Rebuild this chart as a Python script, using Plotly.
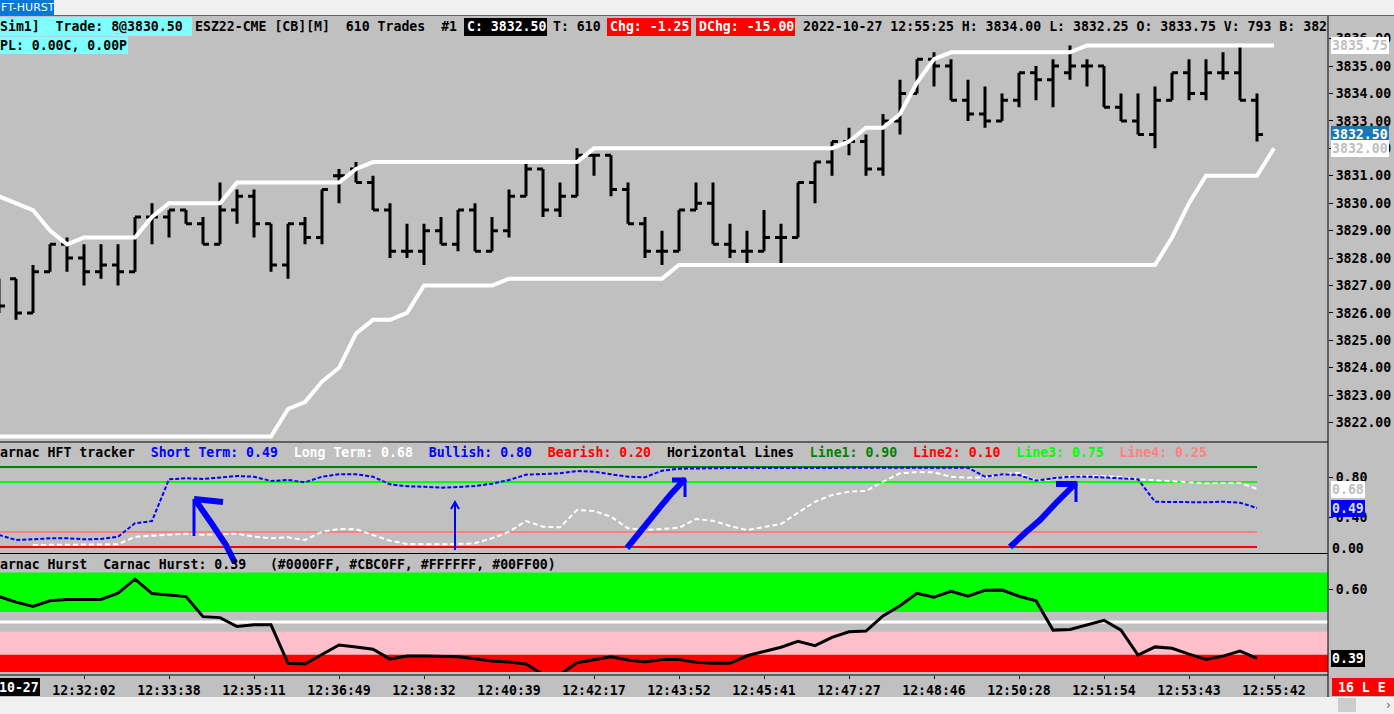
import plotly.graph_objects as go

W, H = 1394, 714
FONT = "DejaVu Sans Mono"

# ---- price bars (610-trade bars, ESZ22) ----
bar_open = [3827.25, 3827.25, 3826.0, 3827.5, 3828.5, 3828.0, 3827.5, 3827.75, 3827.5, 3829.5,
            3829.5, 3829.75, 3829.25, 3828.5, 3829.75, 3830.25, 3829.25, 3827.75, 3829.25, 3828.75,
            3831.0, 3831.25, 3830.75, 3829.75, 3828.25, 3828.25, 3829.0, 3828.5, 3829.75, 3828.25,
            3829.0, 3830.25, 3831.25, 3829.75, 3830.25, 3831.75, 3831.75, 3830.5, 3829.25, 3828.25,
            3828.25, 3829.75, 3830.0, 3828.5, 3828.25, 3828.25, 3828.75, 3828.75, 3830.75, 3831.5,
            3832.25, 3832.25, 3831.25, 3833.0, 3834.0, 3835.25, 3835.0, 3833.75, 3833.25, 3833.0,
            3833.75, 3834.75, 3834.5, 3834.75, 3835.0, 3835.0, 3833.5, 3833.0, 3832.5, 3833.75,
            3834.75, 3834.0, 3834.75, 3834.75, 3833.75]
bar_high = [3827.25, 3827.25, 3827.75, 3828.5, 3828.75, 3828.5, 3828.5, 3828.5, 3829.5, 3830.0,
            3829.75, 3829.75, 3829.5, 3830.75, 3830.5, 3830.5, 3829.25, 3829.25, 3829.5, 3830.5,
            3831.25, 3831.5, 3831.0, 3830.0, 3829.25, 3829.25, 3829.5, 3829.75, 3830.0, 3829.5,
            3830.5, 3831.5, 3831.25, 3830.75, 3832.0, 3831.75, 3831.75, 3830.75, 3829.5, 3829.0,
            3829.75, 3830.75, 3830.75, 3829.25, 3829.0, 3829.75, 3829.25, 3830.75, 3831.5, 3832.25,
            3832.75, 3832.5, 3833.25, 3834.5, 3835.25, 3835.5, 3835.25, 3834.5, 3834.25, 3834.0,
            3834.75, 3835.0, 3835.25, 3835.75, 3835.25, 3835.0, 3834.0, 3834.0, 3834.25, 3834.75,
            3835.25, 3835.25, 3835.5, 3835.75, 3834.0]
bar_low = [3826.0, 3825.75, 3826.0, 3827.5, 3827.5, 3827.0, 3827.25, 3827.0, 3827.5, 3828.5,
           3828.75, 3829.25, 3828.5, 3828.5, 3829.25, 3828.75, 3827.5, 3827.25, 3828.5, 3828.5,
           3830.0, 3830.75, 3829.75, 3828.0, 3828.0, 3827.75, 3828.5, 3828.25, 3828.25, 3828.25,
           3828.75, 3830.25, 3829.5, 3829.5, 3830.25, 3831.0, 3830.25, 3829.25, 3828.0, 3827.75,
           3828.25, 3829.75, 3828.5, 3828.0, 3827.75, 3828.25, 3827.75, 3828.75, 3830.0, 3831.0,
           3831.75, 3831.0, 3831.0, 3832.5, 3834.0, 3834.25, 3833.75, 3833.0, 3832.75, 3833.0,
           3833.5, 3833.75, 3833.5, 3834.5, 3834.25, 3833.5, 3833.0, 3832.5, 3832.0, 3833.75,
           3833.75, 3833.75, 3834.5, 3833.75, 3832.25]
bar_close = [3826.25, 3826.0, 3827.5, 3828.5, 3828.0, 3827.5, 3827.75, 3827.5, 3829.5, 3829.5,
             3829.75, 3829.25, 3828.5, 3829.75, 3830.25, 3829.25, 3827.75, 3829.25, 3828.75, 3830.5,
             3831.0, 3830.75, 3829.75, 3828.25, 3828.25, 3829.0, 3828.5, 3829.75, 3828.25, 3829.0,
             3830.25, 3831.25, 3829.75, 3830.25, 3831.75, 3831.75, 3830.5, 3829.25, 3828.25, 3828.25,
             3829.75, 3830.0, 3828.5, 3828.25, 3828.25, 3828.75, 3828.75, 3830.75, 3831.5, 3832.25,
             3832.25, 3831.25, 3833.0, 3834.0, 3835.25, 3835.0, 3833.75, 3833.25, 3833.0, 3833.75,
             3834.75, 3834.5, 3835.0, 3835.0, 3835.0, 3833.5, 3833.0, 3832.5, 3833.75, 3834.75,
             3834.0, 3834.75, 3834.75, 3833.75, 3832.5]

# white channel lines (one value ahead of the last bar)
upper_band = [3830.25, 3830.0, 3829.75, 3829.0, 3828.5, 3828.75, 3828.75, 3828.75, 3828.75, 3829.5,
              3830.0, 3830.0, 3830.0, 3830.0, 3830.75, 3830.75, 3830.75, 3830.75, 3830.75, 3830.75,
              3830.75, 3831.25, 3831.5, 3831.5, 3831.5, 3831.5, 3831.5, 3831.5, 3831.5, 3831.5,
              3831.5, 3831.5, 3831.5, 3831.5, 3831.5, 3832.0, 3832.0, 3832.0, 3832.0, 3832.0,
              3832.0, 3832.0, 3832.0, 3832.0, 3832.0, 3832.0, 3832.0, 3832.0, 3832.0, 3832.0,
              3832.25, 3832.75, 3832.75, 3833.25, 3834.4, 3835.25, 3835.5, 3835.5, 3835.5, 3835.5,
              3835.5, 3835.5, 3835.5, 3835.5, 3835.75, 3835.75, 3835.75, 3835.75, 3835.75, 3835.75,
              3835.75, 3835.75, 3835.75, 3835.75, 3835.75, 3835.75]
lower_band = [3821.5, 3821.5, 3821.5, 3821.5, 3821.5, 3821.5, 3821.5, 3821.5, 3821.5, 3821.5,
              3821.5, 3821.5, 3821.5, 3821.5, 3821.5, 3821.5, 3821.5, 3822.5, 3822.75, 3823.5,
              3824.0, 3825.25, 3825.75, 3825.75, 3826.0, 3827.0, 3827.0, 3827.0, 3827.0, 3827.0,
              3827.25, 3827.25, 3827.25, 3827.25, 3827.25, 3827.25, 3827.25, 3827.25, 3827.25, 3827.25,
              3827.75, 3827.75, 3827.75, 3827.75, 3827.75, 3827.75, 3827.75, 3827.75, 3827.75, 3827.75,
              3827.75, 3827.75, 3827.75, 3827.75, 3827.75, 3827.75, 3827.75, 3827.75, 3827.75, 3827.75,
              3827.75, 3827.75, 3827.75, 3827.75, 3827.75, 3827.75, 3827.75, 3827.75, 3827.75, 3828.75,
              3830.0, 3831.0, 3831.0, 3831.0, 3831.0, 3832.0]

# ---- Carnac HFT tracker ----
short_term = [0.22, 0.17, 0.177, 0.187, 0.187, 0.177, 0.18, 0.203, 0.337, 0.36,
              0.777, 0.787, 0.78, 0.793, 0.81, 0.803, 0.76, 0.77, 0.747, 0.803,
              0.827, 0.827, 0.803, 0.727, 0.707, 0.703, 0.693, 0.70, 0.71, 0.733,
              0.77, 0.823, 0.827, 0.837, 0.86, 0.853, 0.827, 0.803, 0.797, 0.863,
              0.883, 0.887, 0.887, 0.89, 0.89, 0.89, 0.893, 0.893, 0.893, 0.893,
              0.893, 0.893, 0.895, 0.897, 0.897, 0.897, 0.897, 0.893, 0.803, 0.827,
              0.82, 0.763, 0.787, 0.803, 0.803, 0.797, 0.787, 0.777, 0.553, 0.55,
              0.547, 0.547, 0.553, 0.543, 0.49]
long_term = [None, None, 0.12, 0.12, 0.12, 0.12, 0.12, 0.127, 0.203, 0.213,
             0.227, 0.233, 0.223, 0.227, 0.233, 0.203, 0.187, 0.197, 0.17, 0.253,
             0.28, 0.277, 0.22, 0.163, 0.13, 0.127, 0.127, 0.13, 0.137, 0.187,
             0.253, 0.36, 0.303, 0.297, 0.47, 0.46, 0.403, 0.287, 0.27, 0.28,
             0.293, 0.38, 0.363, 0.31, 0.27, 0.30, 0.33, 0.443, 0.553, 0.62,
             0.653, 0.66, 0.753, 0.837, 0.85, 0.847, 0.803, 0.793, 0.797, 0.83,
             0.84, 0.763, 0.777, 0.81, 0.81, 0.807, 0.80, 0.777, 0.767, 0.757,
             0.743, 0.737, 0.74, 0.743, 0.68]
line1, line2, line3, line4 = 0.90, 0.10, 0.75, 0.25

# ---- Carnac Hurst ----
hurst = [0.577, 0.560, 0.547, 0.564, 0.568, 0.567, 0.568, 0.587, 0.630, 0.586,
         0.581, 0.577, 0.516, 0.513, 0.486, 0.491, 0.491, 0.374, 0.372, 0.400,
         0.430, 0.424, 0.417, 0.387, 0.396, 0.396, 0.396, 0.394, 0.388, 0.381,
         0.378, 0.372, 0.340, 0.340, 0.376, 0.386, 0.394, 0.384, 0.378, 0.386,
         0.386, 0.377, 0.374, 0.374, 0.397, 0.410, 0.423, 0.441, 0.428, 0.453,
         0.470, 0.472, 0.518, 0.549, 0.587, 0.575, 0.593, 0.578, 0.596, 0.597,
         0.578, 0.564, 0.475, 0.477, 0.491, 0.505, 0.475, 0.399, 0.424, 0.420,
         0.402, 0.386, 0.396, 0.411, 0.389]
hurst_green = (0.53, 0.65)
hurst_white = 0.50
hurst_pink = (0.40, 0.47)
hurst_red = (0.3477, 0.40)

time_tick_bars = [5, 10, 15, 20, 25, 30, 35, 40, 45, 50, 55, 60, 65, 70, 75]
time_tick_labels = ['12:32:02', '12:33:38', '12:35:11', '12:36:49', '12:38:32', '12:40:39',
                    '12:42:17', '12:43:52', '12:45:41', '12:47:27', '12:48:46', '12:50:28',
                    '12:51:54', '12:53:43', '12:55:42']
price_ticks = list(range(3822, 3837))

bar_index = list(range(len(bar_close)))
band_index = list(range(len(upper_band)))


def px(x):
    return x / W


def py(y):
    return 1 - y / H


XR = 1328 / W  # right edge of plotting area

fig = go.Figure()

# channel lines then bars
for band in (upper_band, lower_band):
    fig.add_trace(go.Scatter(x=band_index, y=band, mode='lines',
                             line=dict(color='white', width=4), hoverinfo='skip',
                             xaxis='x', yaxis='y'))
fig.add_trace(go.Ohlc(x=bar_index, open=bar_open, high=bar_high, low=bar_low, close=bar_close,
                      increasing=dict(line=dict(color='black', width=3)),
                      decreasing=dict(line=dict(color='black', width=3)),
                      tickwidth=0.35, xaxis='x', yaxis='y'))

# HFT pane
ends = [bar_index[0], bar_index[-1]]
for val, col in ((line1, '#008000'), (line3, '#00FF00'), (line4, '#FF8080'), (line2, '#FF0000')):
    fig.add_trace(go.Scatter(x=ends, y=[val, val], mode='lines', line=dict(color=col, width=2),
                             hoverinfo='skip', xaxis='x2', yaxis='y2'))
fig.add_trace(go.Scatter(x=bar_index, y=long_term, mode='lines',
                         line=dict(color='white', width=2, dash='5px,3px'),
                         hoverinfo='skip', xaxis='x2', yaxis='y2'))
fig.add_trace(go.Scatter(x=bar_index, y=short_term, mode='lines',
                         line=dict(color='#0000FF', width=2, dash='4px,2px'),
                         hoverinfo='skip', xaxis='x2', yaxis='y2'))

# Hurst pane
fig.add_trace(go.Scatter(x=bar_index, y=hurst, mode='lines', line=dict(color='black', width=3),
                         hoverinfo='skip', xaxis='x3', yaxis='y3'))

shapes = []
# Hurst bands
for (lo, hi), col in ((hurst_green, '#00FF00'), (hurst_pink, '#FFC0CB'), (hurst_red, '#FF0000')):
    shapes.append(dict(type='rect', xref='paper', yref='y3', x0=0, x1=XR, y0=lo, y1=hi,
                       fillcolor=col, line_width=0, layer='below'))
shapes.append(dict(type='line', xref='paper', yref='y3', x0=0, x1=XR, y0=hurst_white,
                   y1=hurst_white, line=dict(color='white', width=3), layer='below'))

# window chrome
shapes += [
    dict(type='rect', xref='paper', yref='paper', x0=0, x1=1, y0=py(15.5), y1=1,
         fillcolor='#F0F0F0', line_width=0),
    dict(type='rect', xref='paper', yref='paper', x0=0, x1=px(54), y0=py(15), y1=1,
         fillcolor='#0078D7', line_width=0),
    dict(type='rect', xref='paper', yref='paper', x0=0, x1=1, y0=0, y1=py(697),
         fillcolor='#F0F0F0', line_width=0),
    dict(type='rect', xref='paper', yref='paper', x0=px(1338), x1=px(1356), y0=py(712), y1=py(698),
         fillcolor='#CDCDCD', line_width=0),
    dict(type='line', xref='paper', yref='paper', x0=0, x1=1, y0=py(15.5), y1=py(15.5),
         line=dict(color='#646464', width=1)),
]
for yy in (442, 553.5, 675):
    shapes.append(dict(type='line', xref='paper', yref='paper', x0=0, x1=XR, y0=py(yy), y1=py(yy),
                       line=dict(color='black', width=1)))
shapes.append(dict(type='line', xref='paper', yref='paper', x0=XR, x1=XR, y0=py(16), y1=py(697),
                   line=dict(color='black', width=1)))

# header boxes
for x0, x1, y0, y1, col in ((0, 192, 17, 36, '#80FFFF'), (0, 128, 36.5, 54, '#80FFFF'),
                            (464, 547, 18, 36, 'black'), (607, 691, 18, 36, '#FF0000'),
                            (696, 795, 18, 36, '#FF0000'), (0, 40, 678, 696, 'black'),
                            (1332, 1394, 678, 696, '#FF0000')):
    shapes.append(dict(type='rect', xref='paper', yref='paper', x0=px(x0), x1=px(x1),
                       y0=py(y1), y1=py(y0), fillcolor=col, line_width=0, layer='above'))

# hand-drawn arrows in the HFT pane
def path(points):
    return 'M ' + ' L '.join(f'{px(a):.5f},{py(b):.5f}' for a, b in points)


arrows = [
    ([(235, 563), (226, 545), (212, 524), (196, 501)], 6),
    ([(194, 499), (223, 502)], 6),
    ([(194, 499), (194, 536)], 3),
    ([(455, 550), (455, 502)], 2),
    ([(451, 509), (455, 502), (459, 509)], 2),
    ([(627, 548), (640, 532), (656, 512), (671, 494), (685, 479)], 6),
    ([(672, 480), (686, 480)], 5),
    ([(685, 479), (685, 497)], 3),
    ([(1010, 547), (1025, 533), (1040, 520), (1056, 503), (1076, 483)], 6),
    ([(1056, 484), (1077, 484)], 6),
    ([(1076, 482), (1076, 502)], 3),
]
for pts, w in arrows:
    shapes.append(dict(type='path', xref='paper', yref='paper', path=path(pts),
                       line=dict(color='#0000FF', width=w), layer='above'))

annotations = []


def label(x, y, text, color='black', size=13.2, yref='paper', bg=None, anchor='left', family=FONT,
          weight='bold'):
    d = dict(x=x, y=y, xref='paper', yref=yref, text=text, showarrow=False, xanchor=anchor,
             yanchor='middle', borderpad=0, borderwidth=0,
             font=dict(family=family, size=size, color=color, weight=weight))
    if bg:
        d.update(bgcolor=bg, borderpad=1)
    annotations.append(d)


NB = '\u00a0'
label(px(0), py(27), f'Sim1]{NB*2}Trade: 8@3830.50')
label(px(195), py(27), f'ESZ22-CME [CB][M]{NB*2}610 Trades{NB*2}#1')
label(px(467), py(27), 'C: 3832.50', color='white')
label(px(553), py(27), 'T: 610')
label(px(610), py(27), 'Chg: -1.25', color='white')
label(px(699), py(27), 'DChg: -15.00', color='white')
label(px(803), py(27), '2022-10-27 12:55:25 H: 3834.00 L: 3832.25 O: 3833.75 V: 793 B: 382')
label(px(0), py(45), 'PL: 0.00C, 0.00P')
label(px(1), py(7.5), 'FT-HURST', color='white', size=11, family='DejaVu Sans', weight='normal')

hft_head = (f'Carnac HFT tracker{NB*2}'
            f'<span style="color:#0000FF">Short Term: {short_term[-1]:.2f}</span>{NB*2}'
            f'<span style="color:#FFFFFF">Long Term: {long_term[-1]:.2f}</span>{NB*2}'
            f'<span style="color:#0000FF">Bullish: 0.80</span>{NB*2}'
            f'<span style="color:#FF0000">Bearish: 0.20</span>{NB*2}'
            f'Horizontal Lines{NB*2}'
            f'<span style="color:#008000">Line1: {line1:.2f}</span>{NB*2}'
            f'<span style="color:#FF0000">Line2: {line2:.2f}</span>{NB*2}'
            f'<span style="color:#00FF00">Line3: {line3:.2f}</span>{NB*2}'
            f'<span style="color:#FF8080">Line4: {line4:.2f}</span>')
label(px(-8), py(452), hft_head)
label(px(-8), py(564), f'Carnac Hurst{NB*2}Carnac Hurst: {hurst[-1]:.2f}{NB*3}'
                       '(#0000FF, #CBC0FF, #FFFFFF, #00FF00)')

# right-axis value boxes
label(px(1331), upper_band[-1], f'{upper_band[-1]:.2f}', color='#C0C0C0', yref='y', bg='white')
label(px(1331), bar_close[-1], f'{bar_close[-1]:.2f}', color='white', yref='y', bg='#1C78B4')
label(px(1331), lower_band[-1], f'{lower_band[-1]:.2f}', color='#C0C0C0', yref='y', bg='white')
label(px(1331), long_term[-1], f'{long_term[-1]:.2f}', color='#C0C0C0', yref='y2', bg='white')
label(px(1331), short_term[-1], f'{short_term[-1]:.2f}', color='#DCDCDC', yref='y2', bg='#0000FF')
label(px(1332), py(548), '0.00')
label(px(1331), hurst[-1], f'{hurst[-1]:.2f}', color='white', yref='y3', bg='black')

# bottom row
label(px(39), py(687), '10-27', color='white', anchor='right')
label(px(1338), py(687), '16 L E', color='white')
label(px(1386), py(705), '\u203a', color='#606060', size=12, family='DejaVu Sans', weight='normal')

XRANGE = [1 / 17, 1329 / 17]
xcommon = dict(domain=[0, XR], range=XRANGE, showgrid=False, zeroline=False, fixedrange=True)
ycommon = dict(side='right', showgrid=False, zeroline=False, ticks='outside', ticklen=4,
               tickcolor='black', fixedrange=True, showline=False)

fig.update_layout(
    width=W, height=H, margin=dict(l=0, r=0, t=0, b=0, pad=0),
    paper_bgcolor='#C0C0C0', plot_bgcolor='rgba(0,0,0,0)',
    showlegend=False, hovermode=False,
    font=dict(family=FONT, size=13.2, color='black', weight='bold'),
    xaxis=dict(**xcommon, anchor='y', showticklabels=False, rangeslider=dict(visible=False)),
    xaxis2=dict(**xcommon, anchor='y2', showticklabels=False),
    xaxis3=dict(**xcommon, anchor='free', position=py(675), tickvals=time_tick_bars,
                ticktext=time_tick_labels, ticks='outside', ticklen=3, tickcolor='black'),
    yaxis=dict(**ycommon, anchor='x', domain=[py(441), py(16)],
               range=[3835 - 375 / 27.44, 3835 + 50 / 27.44],
               tickvals=price_ticks, ticktext=[f'{v:.2f}' for v in price_ticks]),
    yaxis2=dict(**ycommon, anchor='x2', domain=[py(553), py(443)], range=[0.04, 1.14],
                tickvals=[0.4, 0.8], ticktext=['0.40', '0.80']),
    yaxis3=dict(**ycommon, anchor='x3', domain=[py(672), py(555)],
                range=[0.60 - 83 / 329, 0.60 + 34 / 329], tickvals=[0.6], ticktext=['0.60']),
    shapes=shapes,
    annotations=annotations,
)

fig.write_html("out.html", config={'displayModeBar': False},
               post_script="document.body.style.margin='0';document.body.style.overflow='hidden';")
